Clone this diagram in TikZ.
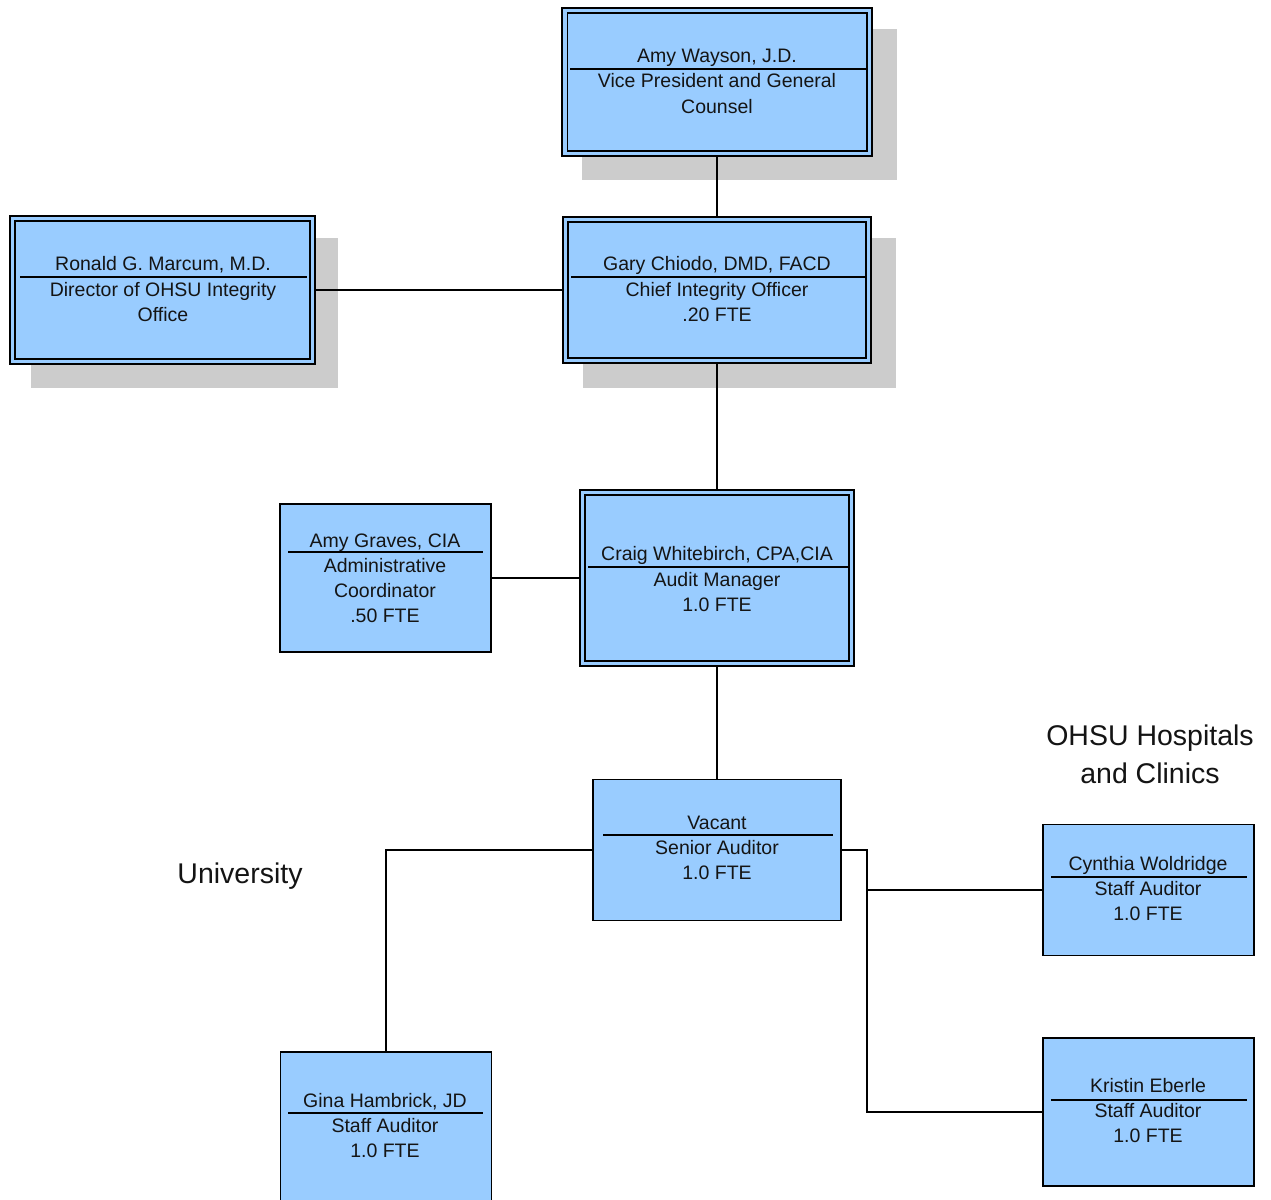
\documentclass[tikz,border=0pt]{standalone}
\usepackage{fontspec}
\setmainfont{Liberation Sans}
\usetikzlibrary{backgrounds}
\definecolor{boxblue}{RGB}{153,204,255}
\definecolor{shadowgray}{RGB}{204,204,204}
\definecolor{txtcol}{RGB}{20,20,20}
\tikzset{
  sbox/.style={draw=black, line width=1.8pt, fill=boxblue, inner sep=0pt, outer sep=0pt},
  innerline/.style={draw=black, line width=1.6pt},
  txt/.style={font=\fontsize{19.5}{24}\selectfont, text=txtcol, inner sep=0pt, anchor=base},
  lbl/.style={font=\fontsize{28.5}{38}\selectfont, text=txtcol, inner sep=0pt, anchor=base},
  sepline/.style={draw=black, line width=1.8pt},
  conn/.style={draw=black, line width=2pt},
  shadowfill/.style={fill=shadowgray}
}
\begin{document}
\begin{tikzpicture}[x=1pt,y=-1pt]
\path[use as bounding box, clip] (0,0) rectangle (1271,1199);

% boxes
\node[sbox, minimum width=309.4pt, minimum height=148.4pt] (wayson) at (717,82) {};
\node[sbox, minimum width=305.4pt, minimum height=148.4pt] (marcum) at (162.5,290) {};
\node[sbox, minimum width=308.4pt, minimum height=146.4pt] (chiodo) at (717,290) {};
\node[sbox, minimum width=274.4pt, minimum height=176.4pt] (white) at (717,578) {};
\node[sbox, minimum width=211pt, minimum height=148pt] (graves) at (385.5,578) {};
\node[sbox, minimum width=248pt, minimum height=141pt] (vacant) at (717,850) {};
\node[sbox, minimum width=211pt, minimum height=131pt] (cynthia) at (1148.5,890) {};
\node[sbox, minimum width=211pt, minimum height=148pt] (kristin) at (1148.5,1112) {};
\node[sbox, minimum width=211pt, minimum height=163pt] (gina) at (386,1133.5) {};

% inner lines of the double-bordered boxes
\draw[innerline] ([shift={(5,5)}]wayson.north west) rectangle ([shift={(-5,-5)}]wayson.south east);
\draw[innerline] ([shift={(5,5)}]marcum.north west) rectangle ([shift={(-5,-5)}]marcum.south east);
\draw[innerline] ([shift={(5,5)}]chiodo.north west) rectangle ([shift={(-5,-5)}]chiodo.south east);
\draw[innerline] ([shift={(5,5)}]white.north west) rectangle ([shift={(-5,-5)}]white.south east);

% shadows and background
\begin{scope}[on background layer]
  \fill[white] (0,0) rectangle (1271,1199);
  \fill[shadowfill] ([shift={(20,24)}]wayson.south west) rectangle ([shift={(25,21)}]wayson.north east);
  \fill[shadowfill] ([shift={(21,24)}]marcum.south west) rectangle ([shift={(23,22)}]marcum.north east);
  \fill[shadowfill] ([shift={(20,25)}]chiodo.south west) rectangle ([shift={(25,21)}]chiodo.north east);
\end{scope}

% connectors
\draw[conn] (wayson.south) -- (wayson.south |- chiodo.north);
\draw[conn] (marcum.east) -- (marcum.east -| chiodo.west);
\draw[conn] (chiodo.south) -- (chiodo.south |- white.north);
\draw[conn] (graves.east) -- (graves.east -| white.west);
\draw[conn] (white.south) -- (white.south |- vacant.north);
\draw[conn] (vacant.west) -| (gina.north);
\draw[conn] (vacant.east) -- ++(26,0) coordinate (vr) |- (kristin.west);
\draw[conn] (vr |- cynthia.west) -- (cynthia.west);

% separators inside boxes
\draw[sepline] (570,69) -- (866,69);
\draw[sepline] (20,277) -- (307,277);
\draw[sepline] (571,277) -- (866,277);
\draw[sepline] (288,552) -- (483,552);
\draw[sepline] (588,567) -- (848,567);
\draw[sepline] (603,835) -- (833,835);
\draw[sepline] (1051,877) -- (1247,877);
\draw[sepline] (1051,1100) -- (1247,1100);
\draw[sepline] (288,1113) -- (483,1113);

% texts
\node[txt] (t1a) at (717,63) {Amy Wayson, J.D.};
\node[txt] (t1b) at (717,88) {Vice President and General};
\node[txt] (t1c) at (717,113) {Counsel};

\node[txt] (t2a) at (163,270) {Ronald G. Marcum, M.D.};
\node[txt] (t2b) at (163,296) {Director of OHSU Integrity};
\node[txt] (t2c) at (163,321) {Office};

\node[txt] (t3a) at (717,270) {Gary Chiodo, DMD, FACD};
\node[txt] (t3b) at (717,296) {Chief Integrity Officer};
\node[txt] (t3c) at (717,321) {.20 FTE};

\node[txt] (t4a) at (385,547) {Amy Graves, CIA};
\node[txt] (t4b) at (385,572) {Administrative};
\node[txt] (t4c) at (385,597) {Coordinator};
\node[txt] (t4d) at (385,622) {.50 FTE};

\node[txt] (t5a) at (717,560) {Craig Whitebirch, CPA,CIA};
\node[txt] (t5b) at (717,586) {Audit Manager};
\node[txt] (t5c) at (717,611) {1.0 FTE};

\node[txt] (t6a) at (717,829) {Vacant};
\node[txt] (t6b) at (717,854) {Senior Auditor};
\node[txt] (t6c) at (717,879) {1.0 FTE};

\node[txt] (t7a) at (1148,870) {Cynthia Woldridge};
\node[txt] (t7b) at (1148,895) {Staff Auditor};
\node[txt] (t7c) at (1148,920) {1.0 FTE};

\node[txt] (t8a) at (1148,1092) {Kristin Eberle};
\node[txt] (t8b) at (1148,1117) {Staff Auditor};
\node[txt] (t8c) at (1148,1142) {1.0 FTE};

\node[txt] (t9a) at (385,1107) {Gina Hambrick, JD};
\node[txt] (t9b) at (385,1132) {Staff Auditor};
\node[txt] (t9c) at (385,1157) {1.0 FTE};

% group labels
\node[lbl] (hosp1) at (1150,745) {OHSU Hospitals};
\node[lbl] (hosp2) at (1150,783) {and Clinics};
\node[lbl] (univ) at (240,883) {University};
\end{tikzpicture}
\end{document}
